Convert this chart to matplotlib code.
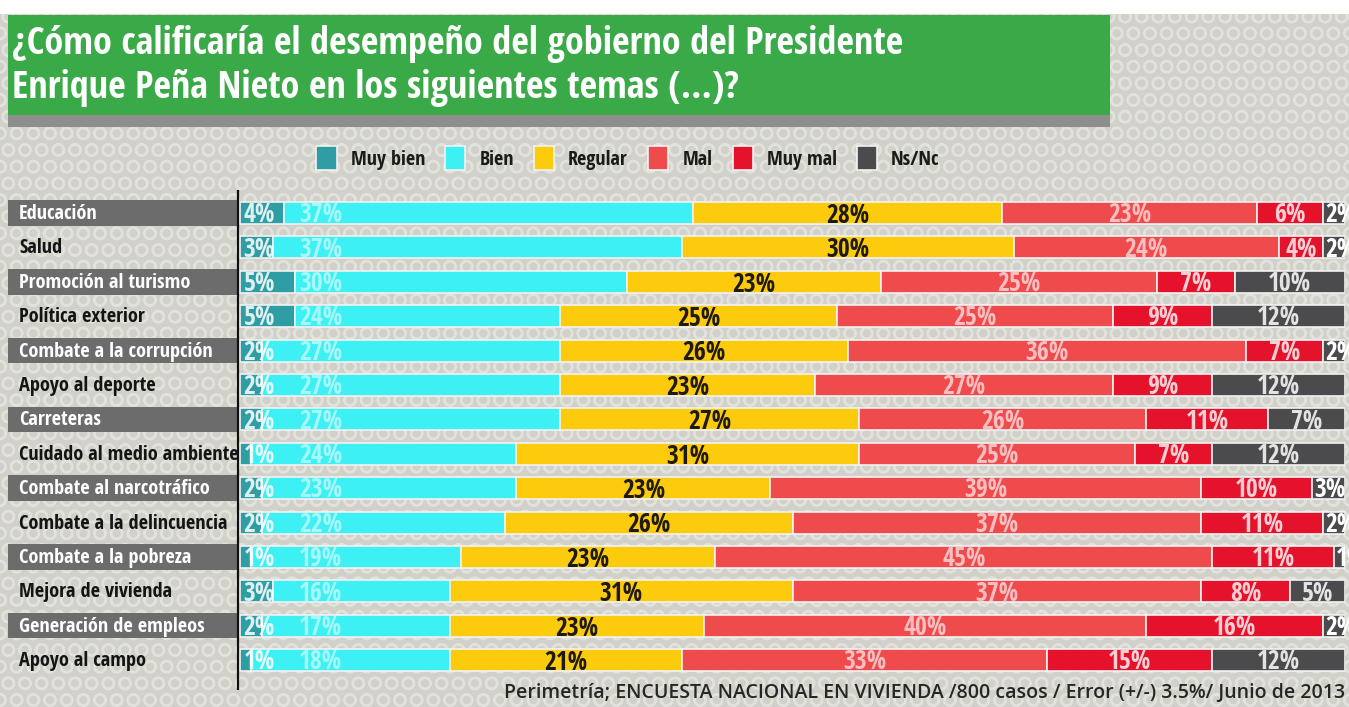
import matplotlib
matplotlib.use('Agg')
from matplotlib import pyplot as plt
from matplotlib.patches import Rectangle

temas = ["Educación", "Salud", "Promoción al turismo", "Política exterior",
         "Combate a la corrupción", "Apoyo al deporte", "Carreteras",
         "Cuidado al medio ambiente", "Combate al narcotráfico",
         "Combate a la delincuencia", "Combate a la pobreza",
         "Mejora de vivienda", "Generación de empleos", "Apoyo al campo"]

categorias = ["Muy bien", "Bien", "Regular", "Mal", "Muy mal", "Ns/Nc"]

muy_bien = [4, 3, 5, 5, 2, 2, 2, 1, 2, 2, 1, 3, 2, 1]
bien = [37, 37, 30, 24, 27, 27, 27, 24, 23, 22, 19, 16, 17, 18]
regular = [28, 30, 23, 25, 26, 23, 27, 31, 23, 26, 23, 31, 23, 21]
mal = [23, 24, 25, 25, 36, 27, 26, 25, 39, 37, 45, 37, 40, 33]
muy_mal = [6, 4, 7, 9, 7, 9, 11, 7, 10, 11, 11, 8, 16, 15]
ns_nc = [2, 2, 10, 12, 2, 12, 7, 12, 3, 2, 1, 5, 2, 12]

titulo = ("¿Cómo calificaría el desempeño del gobierno del Presidente\n"
          "Enrique Peña Nieto en los siguientes temas (...)?")
fuente = ("Perimetría; ENCUESTA NACIONAL EN VIVIENDA /800 casos / "
          "Error (+/-) 3.5%/ Junio de 2013")

colores = ['#2e9ea4', '#3df0f4', '#fccb0c', '#ef4a4c', '#e5122b', '#4b4b4d']
COND = ['Open Sans Condensed', 'Open Sans', 'DejaVu Sans']

plt.rcParams['hatch.linewidth'] = 1.6


def main():
    fig = plt.figure(figsize=(13.49, 7.07), dpi=100)
    fig.patch.set_facecolor('#d1d1c9')
    W, H = 1349.0, 707.0

    # honeycomb-ish background
    fig.patches.append(Rectangle((0, 0), 1, 1, transform=fig.transFigure,
                                 facecolor='#d1d1c9', edgecolor='#e2e2dc',
                                 hatch='O', lw=0, zorder=-10))
    fig.patches.append(Rectangle((0, 1 - 14 / H), 1, 14 / H,
                                 transform=fig.transFigure,
                                 facecolor='white', lw=0, zorder=-9))

    # title box with shadow
    fig.patches.append(Rectangle((8 / W, 1 - 127 / H), 1102 / W, 16 / H,
                                 transform=fig.transFigure,
                                 facecolor='#8e8e8e', lw=0, zorder=-5))
    fig.patches.append(Rectangle((8 / W, 1 - 115 / H), 1102 / W, 100 / H,
                                 transform=fig.transFigure,
                                 facecolor='#3aaa48', lw=0, zorder=-4))
    fig.text(12 / W, 1 - 66 / H, titulo, color='white', fontsize=27.5,
             fontweight='bold', family=COND, va='center', ha='left',
             linespacing=1.18)

    ax = fig.add_axes([8 / W, 17 / H, 1337 / W, 500 / H])
    ax.set_facecolor('none')
    for s in ax.spines.values():
        s.set_visible(False)
    ax.set_xticks([])
    ax.set_yticks([])
    ax.set_xlim(-21.0, 100)
    ax.set_ylim(13.87, -0.67)

    filas = range(len(temas))
    series = [muy_bien, bien, regular, mal, muy_mal, ns_nc]

    # row label boxes
    for i in filas:
        if i % 2 == 0:
            ax.barh(i, 20.7, left=-21.0, height=0.74, color='#6c6c6c', lw=0)
            tc = 'white'
        else:
            tc = '#141414'
        ax.text(-20.0, i + 0.03, temas[i], color=tc, fontsize=14.6,
                fontweight='bold', family=COND, va='center', ha='left')

    ax.axvline(-0.2, color='#111111', lw=1.6, ymin=0, ymax=1)

    left = [0] * len(temas)
    for k, (vals, col, cat) in enumerate(zip(series, colores, categorias)):
        ax.barh(list(filas), vals, left=left, height=0.64, color=col,
                edgecolor='#f2f2f2', linewidth=1.2, label=cat)
        for i in filas:
            v = vals[i]
            x0 = left[i]
            txt = f"{v}%"
            kw = dict(family=COND, fontweight='bold', va='center',
                      fontsize=18.5)
            if k == 0:
                ax.text(x0 + 0.3, i + 0.05, txt, color='white', alpha=0.85,
                        ha='left', **kw)
            elif k == 1:
                ax.text(7.3, i + 0.05, txt, color='white', alpha=0.55,
                        ha='center', **kw)
            elif k == 2:
                ax.text(x0 + v / 2, i + 0.07, txt, color='#1e1a10',
                        ha='center', **kw)
            elif k == 3:
                ax.text(x0 + v / 2, i + 0.05, txt, color='white', alpha=0.65,
                        ha='center', **kw)
            elif k == 4:
                ax.text(x0 + v / 2, i + 0.05, txt, color='white', alpha=0.8,
                        ha='center', **kw)
            else:
                if v <= 3:
                    ax.text(x0 + 0.2, i + 0.05, txt, color='white',
                            ha='left', **kw)
                else:
                    ax.text(x0 + v / 2, i + 0.05, txt, color='white',
                            alpha=0.85, ha='center', **kw)
        left = [a + b for a, b in zip(left, vals)]

    leg = ax.legend(loc='center', bbox_to_anchor=(628 / W, 1 - 158 / H),
                    bbox_transform=fig.transFigure, ncol=6, frameon=False,
                    handlelength=1.0, handleheight=1.4, handletextpad=0.7,
                    columnspacing=1.0,
                    prop={'family': COND, 'weight': 'bold', 'size': 14.5})
    for t in leg.get_texts():
        t.set_color('#1a1a1a')

    fig.text(1345 / W, 1 - 693 / H, fuente, color='#262626', fontsize=14,
             family=['Open Sans', 'DejaVu Sans'], fontweight='semibold',
             ha='right', va='center')

    fig.savefig('out.png', dpi=100, facecolor=fig.get_facecolor())


if __name__ == '__main__':
    main()
